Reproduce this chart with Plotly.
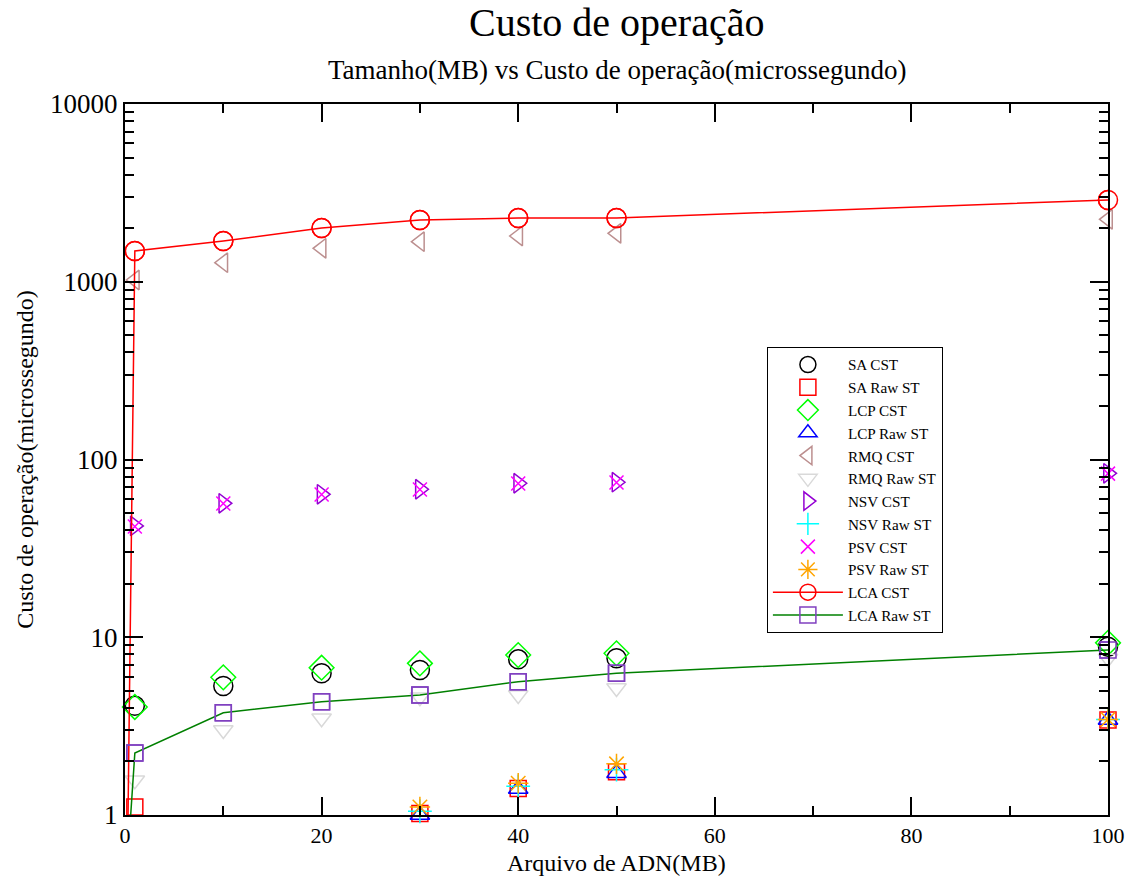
import plotly.graph_objects as go

x_vals = [1, 10, 20, 30, 40, 50, 100]

sa_cst = [4.12, 5.32, 6.27, 6.54, 7.51, 7.62, 8.85]
sa_raw = [1.11, None, None, 1.02, 1.41, 1.75, 3.42]
lcp_cst = [4.05, 5.95, 6.74, 7.13, 7.94, 8.12, 9.3]
lcp_raw = [None, None, None, 1.0, 1.40, 1.72, 3.42]
rmq_cst = [1023, 1280, 1542, 1680, 1808, 1872, 2245]
rmq_raw = [1.57, 3.01, 3.50, 4.6, 4.73, 5.18, 7.6]
nsv_cst = [42.3, 56.7, 63.7, 68.0, 73.5, 74.5, 83.6]
nsv_raw = [None, None, None, 1.05, 1.45, 1.8, 3.45]
psv_cst = [42.0, 56.5, 63.5, 67.8, 73.2, 74.2, 83.3]
psv_raw = [None, None, None, 1.11, 1.51, 1.94, 3.45]

lca_x = [0.1, 1, 10, 20, 30, 40, 50, 100]
lca_cst = [0.11, 1489, 1695, 2006, 2225, 2284, 2284, 2884]
lca_raw = [0.40, 2.23, 3.76, 4.34, 4.73, 5.62, 6.27, 8.48]

x_tick_vals = [0, 20, 40, 60, 80, 100]
x_minor_vals = [10, 30, 50, 70, 90]
y_tick_vals = [1, 10, 100, 1000, 10000]
y_tick_text = ["1", "10", "100", "1000", "10000"]
y_minor_vals = [m * d for d in [1, 10, 100, 1000] for m in range(2, 10)]

FONT = "Liberation Serif"

marker_series = [
    ("SA CST", sa_cst, "circle-open", "black", 19),
    ("SA Raw ST", sa_raw, "square-open", "red", 16),
    ("LCP CST", lcp_cst, "diamond-open", "#00ff00", 19),
    ("LCP Raw ST", lcp_raw, "triangle-up-open", "blue", 17),
    ("RMQ CST", rmq_cst, "triangle-left-open", "#bc8f8f", 17),
    ("RMQ Raw ST", rmq_raw, "triangle-down-open", "#d9d9d9", 17),
    ("NSV CST", nsv_cst, "triangle-right-open", "#9400d3", 17),
    ("NSV Raw ST", nsv_raw, "cross-thin-open", "#00ffff", 17),
    ("PSV CST", psv_cst, "x-thin-open", "#ff00ff", 14),
    ("PSV Raw ST", psv_raw, "asterisk-open", "#ffa500", 17),
]

fig = go.Figure()
for name, ys, sym, col, sz in marker_series:
    fig.add_trace(go.Scatter(
        x=x_vals, y=ys, mode="markers", name=name, cliponaxis=False,
        marker=dict(symbol=sym, size=sz, color=col, line=dict(color=col, width=1.5)),
    ))

fig.add_trace(go.Scatter(
    x=lca_x, y=lca_cst, mode="lines+markers", name="LCA CST", cliponaxis=True,
    line=dict(color="red", width=1.5),
    marker=dict(symbol="circle-open", size=19, color="red", line=dict(color="red", width=1.5)),
))
fig.add_trace(go.Scatter(
    x=lca_x, y=lca_raw, mode="lines+markers", name="LCA Raw ST", cliponaxis=True,
    line=dict(color="#008000", width=1.5),
    marker=dict(symbol="square-open", size=16, color="#8040c0", line=dict(color="#8040c0", width=1.5)),
))
# unclipped copies of visible LCA markers (edge points)
fig.add_trace(go.Scatter(
    x=lca_x[1:], y=lca_cst[1:], mode="markers", showlegend=False, cliponaxis=False,
    marker=dict(symbol="circle-open", size=19, color="red", line=dict(color="red", width=1.5)),
))
fig.add_trace(go.Scatter(
    x=lca_x[1:], y=lca_raw[1:], mode="markers", showlegend=False, cliponaxis=False,
    marker=dict(symbol="square-open", size=16, color="#8040c0", line=dict(color="#8040c0", width=1.5)),
))

fig.update_layout(
    width=1137, height=879,
    margin=dict(l=125, r=29, t=104, b=64),
    paper_bgcolor="white", plot_bgcolor="white",
    font=dict(family=FONT, color="black"),
    annotations=[
        dict(text="Custo de operação", xref="paper", yref="paper", x=0.5, y=1.114,
             xanchor="center", yanchor="middle", showarrow=False,
             font=dict(family=FONT, size=40, color="black")),
        dict(text="Tamanho(MB) vs Custo de operação(microssegundo)", xref="paper", yref="paper",
             x=0.5, y=1.048, xanchor="center", yanchor="middle", showarrow=False,
             font=dict(family=FONT, size=27, color="black")),
        dict(text="Arquivo de ADN(MB)", xref="paper", yref="paper", x=0.5, y=-0.0675,
             xanchor="center", yanchor="middle", showarrow=False,
             font=dict(family=FONT, size=24, color="black")),
    ],
    showlegend=True,
    legend=dict(
        x=0.653, y=0.658, xanchor="left", yanchor="top",
        bgcolor="white", bordercolor="black", borderwidth=1,
        font=dict(family=FONT, size=15.2, color="black"),
        tracegroupgap=0, itemsizing="trace", itemwidth=70,
    ),
    xaxis=dict(
        range=[0, 100], tickmode="array", tickvals=x_tick_vals, automargin=False,
        ticks="inside", ticklen=18, tickwidth=1.5, tickcolor="black",
        minor=dict(tickmode="array", tickvals=x_minor_vals, ticks="inside", ticklen=9, tickwidth=1.5, tickcolor="black"),
        showline=True, linecolor="black", linewidth=2, mirror="ticks",
        showgrid=False, zeroline=False,
        tickfont=dict(family=FONT, size=22, color="black"),
    ),
    yaxis=dict(
        type="log", range=[0, 4], tickmode="array", tickvals=y_tick_vals, ticktext=y_tick_text, automargin=False,
        ticks="inside", ticklen=18, tickwidth=1.5, tickcolor="black",
        minor=dict(tickmode="array", tickvals=y_minor_vals, ticks="inside", ticklen=9, tickwidth=1.5, tickcolor="black", showgrid=False),
        showline=True, linecolor="black", linewidth=2, mirror="ticks",
        showgrid=False, zeroline=False,
        tickfont=dict(family=FONT, size=27, color="black"),
        title=dict(text="Custo de operação(microssegundo)", font=dict(family=FONT, size=24, color="black"), standoff=10),
    ),
)

fig.write_html("out.html")
